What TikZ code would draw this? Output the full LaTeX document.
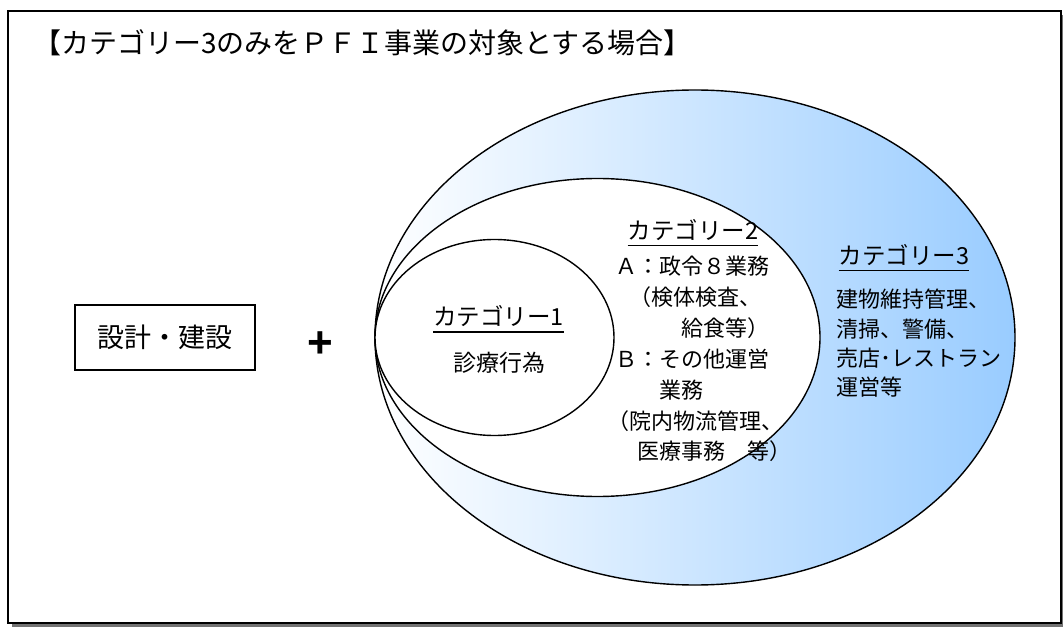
\documentclass[tikz,border=0pt]{standalone}
\usepackage{fontspec}
\newfontfamily\jp{Noto Sans CJK JP}
\newfontfamily\plusfont{Liberation Sans}
\usetikzlibrary{shapes.geometric}
\definecolor{blueR}{RGB}{153,204,255}
\begin{document}
\begin{tikzpicture}[x=1pt,y=-1pt,
  txt/.style={font=\jp\fontsize{22}{26}\selectfont, inner sep=0pt, anchor=base west},
  lbl/.style={font=\jp\fontsize{23.5}{28}\selectfont, inner sep=0pt, anchor=base},
  ell/.style={ellipse, draw, line width=1.4pt, inner sep=0pt},
  uline/.style={line width=1.7pt}
]
\useasboundingbox (0,0) rectangle (1063,628);
\begin{scope}
\clip (0,0) rectangle (1063,628);
\fill[black!55] (12,15) rectangle (1066,627);
\draw[line width=2pt, fill=white] (8,11) rectangle (1061,623);
\end{scope}

\node[font=\jp\fontsize{28}{32}\selectfont, inner sep=0pt, anchor=base west] (title) at (33,54) {【カテゴリー3のみをＰＦＩ事業の対象とする場合】};

\node[ell, minimum width=640pt, minimum height=495pt, left color=white, right color=blueR] (c3) at (695,337.5) {};
\node[ell, minimum width=445pt, minimum height=318pt, fill=white] (c2) at (597.5,337.5) {};
\node[ell, minimum width=239pt, minimum height=196pt, fill=white] (c1) at (494.5,337.5) {};

\node[draw, line width=1.3pt, minimum width=180pt, minimum height=65pt, inner sep=0pt, font=\jp\fontsize{27}{30}\selectfont] (design) at (165,337.5) {設計・建設};
\node[font=\plusfont\bfseries\fontsize{44}{48}\selectfont, inner sep=0pt] (plus) at (320,345) {+};

\node[lbl] (c1lbl) at (498.5,326) {カテゴリー1};
\draw[uline] ([yshift=-6pt]c1lbl.base west) -- ([yshift=-6pt]c1lbl.base east);
\node[font=\jp\fontsize{23}{26}\selectfont, inner sep=0pt, anchor=base] (c1body) at (499,371) {診療行為};

\node[lbl] (c2lbl) at (693,240) {カテゴリー2};
\draw[uline] ([yshift=-5.5pt]c2lbl.base west) -- ([yshift=-5.5pt]c2lbl.base east);
\foreach \dx/\t [count=\i from 0] in {0/Ａ：政令８業務,-8/　（検体検査、,0/　　　給食等）,0/Ｂ：その他運営,0/　　業務,-8/（院内物流管理、,0/　医療事務　等）}{
  \node[txt] (c2l\i) at (615+\dx,275+30.8*\i) {\t};
}

\node[lbl] (c3lbl) at (904,265) {カテゴリー3};
\draw[uline] ([yshift=-5.5pt]c3lbl.base west) -- ([yshift=-5.5pt]c3lbl.base east);
\foreach \t [count=\i from 0] in {建物維持管理、,清掃、警備、,売店･レストラン,運営等}{
  \node[txt] (c3l\i) at (836,308+29.3*\i) {\t};
}
\end{tikzpicture}
\end{document}
